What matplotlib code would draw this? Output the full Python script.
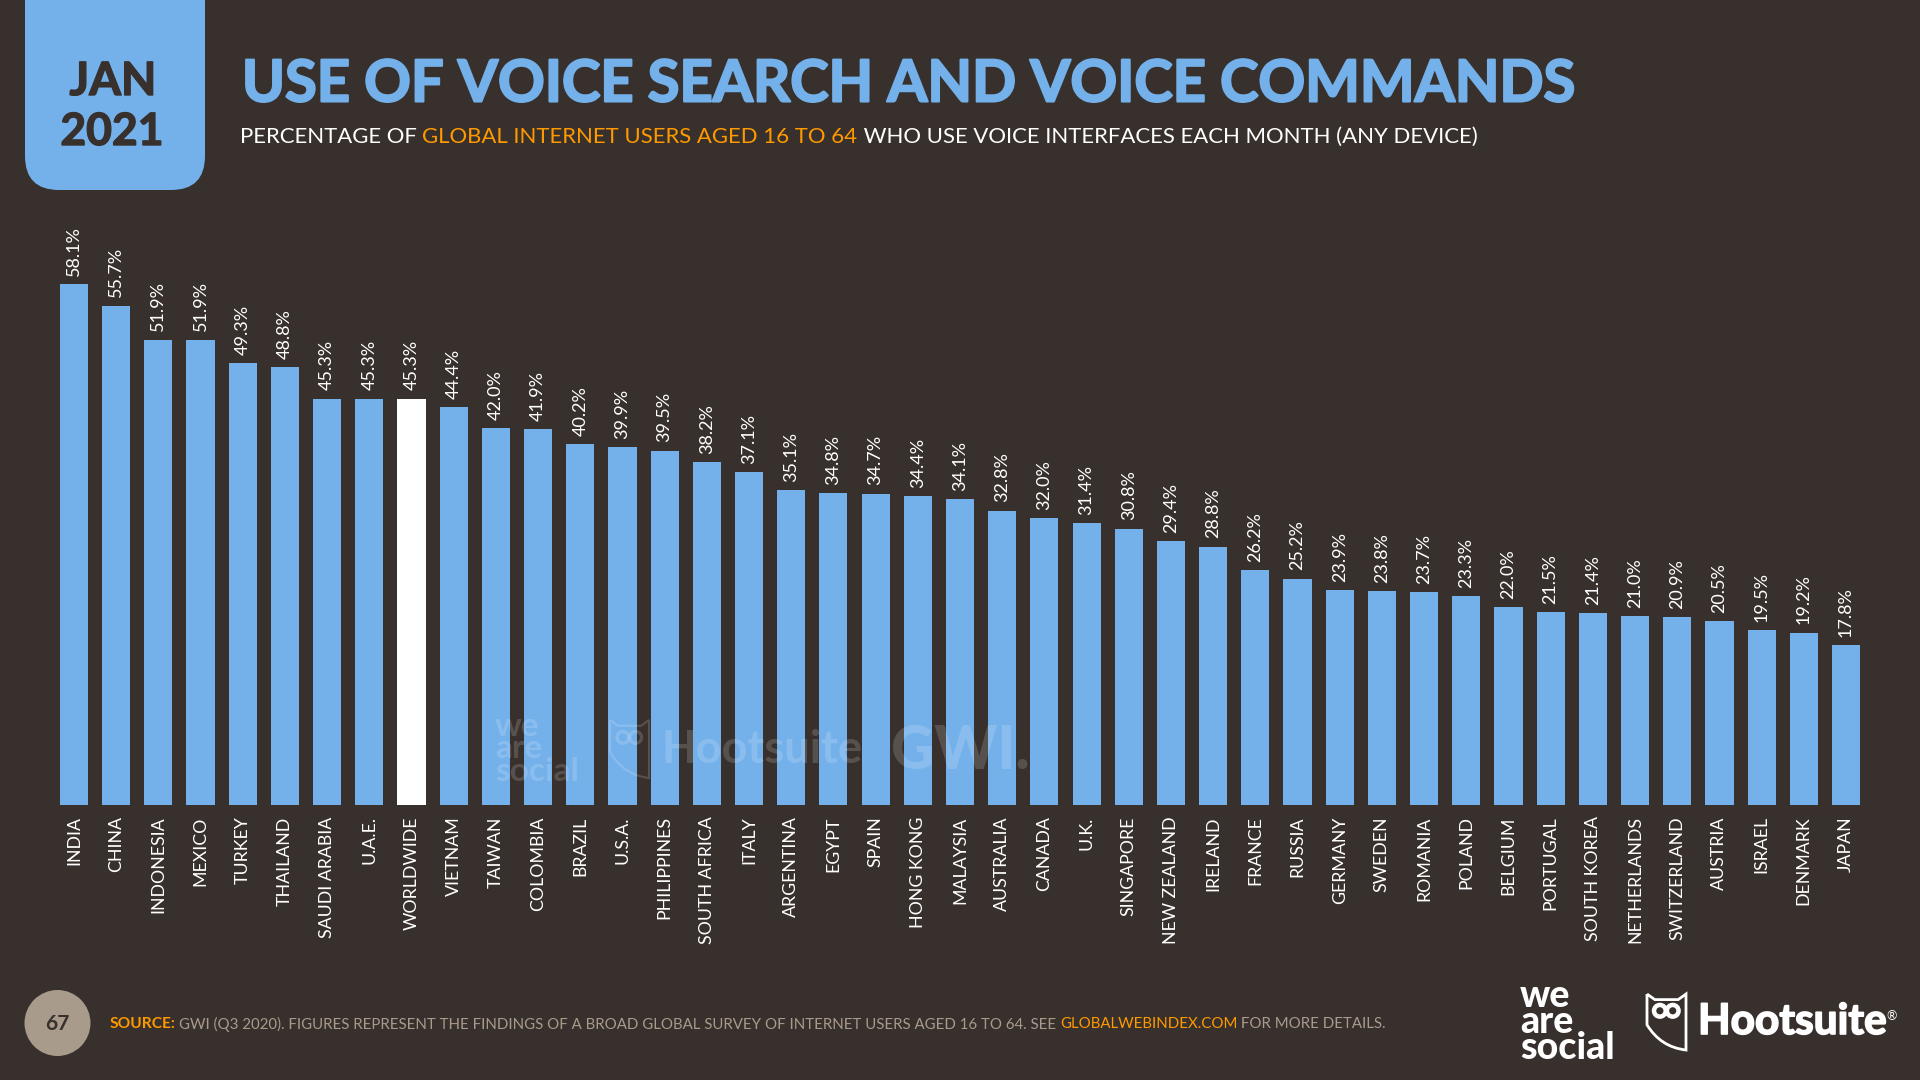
import matplotlib
matplotlib.use("Agg")
import matplotlib.pyplot as plt
import matplotlib.patheffects as pe
from matplotlib.patches import FancyBboxPatch, Circle, PathPatch
from matplotlib.path import Path

# ---------------- data ----------------
COUNTRIES = ["INDIA", "CHINA", "INDONESIA", "MEXICO", "TURKEY", "THAILAND", "SAUDI ARABIA", "U.A.E.",
             "WORLDWIDE", "VIETNAM", "TAIWAN", "COLOMBIA", "BRAZIL", "U.S.A.", "PHILIPPINES",
             "SOUTH AFRICA", "ITALY", "ARGENTINA", "EGYPT", "SPAIN", "HONG KONG", "MALAYSIA",
             "AUSTRALIA", "CANADA", "U.K.", "SINGAPORE", "NEW ZEALAND", "IRELAND", "FRANCE", "RUSSIA",
             "GERMANY", "SWEDEN", "ROMANIA", "POLAND", "BELGIUM", "PORTUGAL", "SOUTH KOREA",
             "NETHERLANDS", "SWITZERLAND", "AUSTRIA", "ISRAEL", "DENMARK", "JAPAN"]
VALUES = [58.1, 55.7, 51.9, 51.9, 49.3, 48.8, 45.3, 45.3, 45.3, 44.4, 42.0, 41.9, 40.2, 39.9, 39.5,
          38.2, 37.1, 35.1, 34.8, 34.7, 34.4, 34.1, 32.8, 32.0, 31.4, 30.8, 29.4, 28.8, 26.2, 25.2,
          23.9, 23.8, 23.7, 23.3, 22.0, 21.5, 21.4, 21.0, 20.9, 20.5, 19.5, 19.2, 17.8]
HIGHLIGHT = "WORLDWIDE"

# ---------------- style ----------------
BG = "#38302C"
BLUE = "#74B1EA"
ORANGE = "#FF9900"
GREY = "#A89B8C"
FONT = "Lato"
NARROW = ["Liberation Sans Narrow", "Lato"]
W, H = 1920, 1080

plt.rcParams["font.family"] = FONT
fig = plt.figure(figsize=(W / 100, H / 100), dpi=100, facecolor=BG)

# chart axes (pixel box picked so bars land where they do in the slide)
ax = fig.add_axes([52.9 / W, (H - 804.5) / H, (1867.1 - 52.9) / W, 604.5 / H])
ax.set_facecolor("none")
x = range(len(COUNTRIES))
colors = ["white" if c == HIGHLIGHT else BLUE for c in COUNTRIES]
ax.bar(x, VALUES, width=0.667, color=colors)
ax.set_xlim(-0.5, len(COUNTRIES) - 0.5)
ax.set_ylim(0, 67.5)
ax.set_yticks([])
ax.set_xticks(list(x))
ax.set_xticklabels(COUNTRIES, rotation=90, fontsize=12.8, color="white", ha="center", va="top")
ax.tick_params(axis="x", length=0, pad=8.5)
for s in ax.spines.values():
    s.set_visible(False)
for i, v in enumerate(VALUES):
    ax.annotate(f"{v:.1f}%", (i, v), xytext=(0, 6), textcoords="offset points", rotation=90,
                ha="center", va="bottom", color="white", fontsize=13, family=NARROW)

# overlay in pixel coords for the slide furniture
ov = fig.add_axes([0, 0, 1, 1])
ov.set_xlim(0, W)
ov.set_ylim(H, 0)
ov.axis("off")
ov.patch.set_alpha(0)


def run_text(x0, y, parts, **kw):
    """Lay out coloured pieces of text one after another on one line."""
    r = fig.canvas.get_renderer()
    for s, col in parts:
        t = ov.text(x0, y, s, color=col, va="center", ha="left", **kw)
        x0 += t.get_window_extent(r).width
    return x0


def heavy(col, lw):
    # Lato Bold plus a thin stroke, gets close to the slide's heavy Futura
    return [pe.withStroke(linewidth=lw, foreground=col)]


def owl(x0, y0, w, h, col, alpha=1.0, lw=2.0):
    """Outline of the Hootsuite owl, x0/y0 top-left in pixels."""
    P = lambda a, b: (x0 + a * w, y0 + b * h)
    verts = [P(0, 0), P(0.2, 0.1), P(0.8, 0.1), P(1, 0), P(1, 1), P(0.35, 0.95), P(0, 0.55), P(0, 0)]
    codes = [Path.MOVETO, Path.LINETO, Path.LINETO, Path.LINETO, Path.LINETO, Path.CURVE3, Path.CURVE3, Path.LINETO]
    ov.add_patch(PathPatch(Path(verts, codes), fc="none", ec=col, lw=lw, alpha=alpha))
    for cx in (0.33, 0.66):
        ov.add_patch(Circle(P(cx, 0.3), 0.15 * w, fc="none", ec=col, lw=lw * 1.6, alpha=alpha))


# date badge
ov.add_patch(FancyBboxPatch((25, -60), 180, 250, boxstyle="round,pad=0,rounding_size=34", fc=BLUE, ec="none"))
ov.text(113, 82, "JAN", color=BG, fontsize=33, fontweight="bold", ha="center", va="center",
        path_effects=heavy(BG, 1))
ov.text(112, 132, "2021", color=BG, fontsize=32, fontweight="bold", ha="center", va="center",
        path_effects=heavy(BG, 1))

# title + subtitle
ov.text(242, 85, "USE OF VOICE SEARCH AND VOICE COMMANDS", color=BLUE, fontsize=41.7, fontweight="bold",
        ha="left", va="center", path_effects=heavy(BLUE, 1.5))
run_text(240, 137, [("PERCENTAGE OF ", "white"), ("GLOBAL INTERNET USERS AGED 16 TO 64", ORANGE),
                    (" WHO USE VOICE INTERFACES EACH MONTH (ANY DEVICE)", "white")], fontsize=15.95)

# footer
ov.add_patch(Circle((57.5, 1023), 33, fc=GREY, ec="none"))
ov.text(57.5, 1024, "67", color=BG, fontsize=15, fontweight="bold", ha="center", va="center")
nx = run_text(110, 1024, [("SOURCE:", ORANGE)], fontsize=11.2, fontweight="bold")
run_text(nx + 3, 1024, [("GWI (Q3 2020). FIGURES REPRESENT THE FINDINGS OF A BROAD GLOBAL SURVEY OF INTERNET USERS AGED 16 TO 64. SEE ", GREY),
                        ("GLOBALWEBINDEX.COM", ORANGE), (" FOR MORE DETAILS.", GREY)], fontsize=10.85)

# logos bottom right
ov.text(1520, 1022, "we\nare\nsocial", color="white", fontsize=27, fontweight="black", ha="left", va="center",
        linespacing=0.72)
owl(1647, 994, 39, 56, "white")
ov.text(1698, 1022, "Hootsuite", color="white", fontsize=30.5, fontweight="bold", ha="left", va="center",
        path_effects=heavy("white", 1.2))
ov.text(1886, 1016, "®", color="white", fontsize=9, ha="left", va="center")

# watermarks over the bars
WM = 0.16
ov.text(495, 749, "we\nare\nsocial", color="white", alpha=WM, fontsize=24, fontweight="bold", ha="left", va="center",
        linespacing=0.72)
owl(610, 720, 39, 58, "white", alpha=WM, lw=1.5)
ov.text(661, 750, "Hootsuite", color="white", alpha=WM, fontsize=32.5, fontweight="bold", ha="left", va="center")
ov.text(891, 751, "GWI.", color="white", alpha=WM, fontsize=43, fontweight="black", ha="left", va="center")

fig.savefig("out.png", dpi=100, facecolor=BG)
